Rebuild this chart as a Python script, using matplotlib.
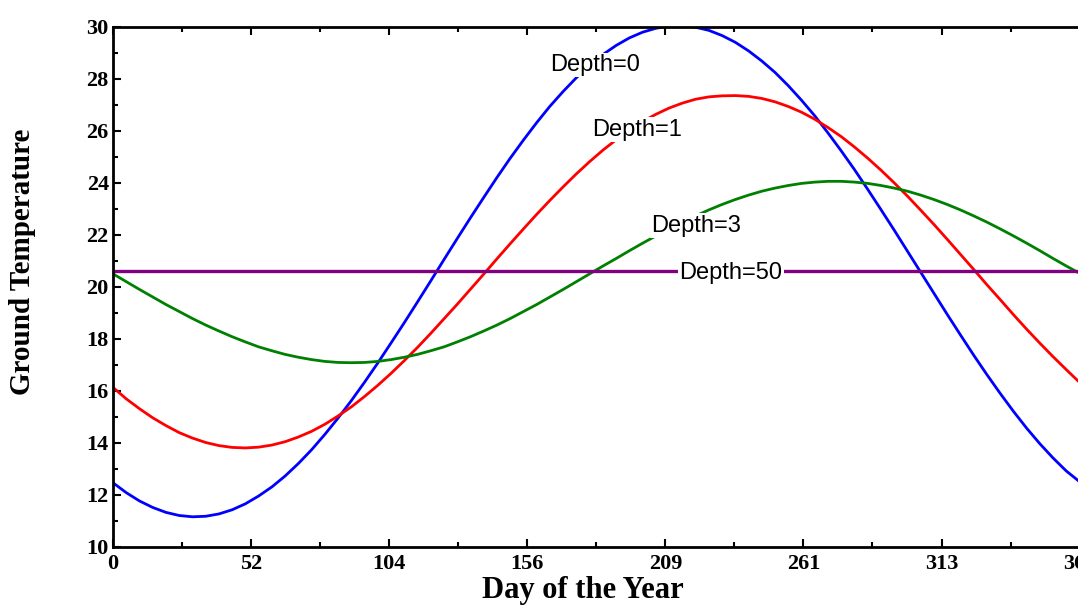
import matplotlib
matplotlib.use("Agg")
import matplotlib.pyplot as plt
from matplotlib.ticker import FixedLocator

# ---- data (every 5 days) ----
days = [0, 5, 10, 15, 20, 25, 30, 35, 40, 45, 50, 55, 60, 65, 70, 75, 80, 85, 90, 95,
        100, 105, 110, 115, 120, 125, 130, 135, 140, 145, 150, 155, 160, 165, 170, 175, 180, 185, 190, 195,
        200, 205, 210, 215, 220, 225, 230, 235, 240, 245, 250, 255, 260, 265, 270, 275, 280, 285, 290, 295,
        300, 305, 310, 315, 320, 325, 330, 335, 340, 345, 350, 355, 360, 365]

depth0 = [12.46, 12.08, 11.76, 11.51, 11.32, 11.20, 11.15, 11.17, 11.26, 11.42, 11.65, 11.95, 12.30, 12.72,
          13.20, 13.73, 14.32, 14.95, 15.62, 16.33, 17.07, 17.84, 18.62, 19.42, 20.23, 21.05, 21.86, 22.66,
          23.44, 24.21, 24.95, 25.65, 26.32, 26.95, 27.52, 28.05, 28.52, 28.94, 29.29, 29.58, 29.80, 29.95,
          30.03, 30.05, 29.99, 29.87, 29.67, 29.41, 29.08, 28.69, 28.25, 27.74, 27.18, 26.58, 25.92, 25.23,
          24.51, 23.75, 22.97, 22.18, 21.37, 20.56, 19.75, 18.94, 18.15, 17.37, 16.62, 15.90, 15.21, 14.56,
          13.96, 13.41, 12.91, 12.50]

depth1 = [16.13, 15.69, 15.31, 14.96, 14.66, 14.39, 14.18, 14.01, 13.89, 13.82, 13.80, 13.83, 13.91, 14.04,
          14.22, 14.44, 14.71, 15.03, 15.38, 15.78, 16.21, 16.67, 17.16, 17.67, 18.21, 18.77, 19.33, 19.91,
          20.49, 21.08, 21.66, 22.23, 22.79, 23.33, 23.85, 24.35, 24.82, 25.26, 25.66, 26.03, 26.36, 26.64,
          26.88, 27.07, 27.22, 27.31, 27.35, 27.36, 27.33, 27.25, 27.12, 26.94, 26.72, 26.45, 26.13, 25.78,
          25.38, 24.95, 24.49, 24.00, 23.49, 22.95, 22.40, 21.83, 21.25, 20.67, 20.08, 19.51, 18.93, 18.37,
          17.83, 17.31, 16.81, 16.32]

depth3 = [20.50, 20.20, 19.90, 19.61, 19.32, 19.05, 18.78, 18.53, 18.30, 18.08, 17.88, 17.69, 17.54, 17.40,
          17.29, 17.20, 17.13, 17.09, 17.08, 17.09, 17.13, 17.20, 17.29, 17.40, 17.54, 17.69, 17.88, 18.08,
          18.30, 18.53, 18.78, 19.05, 19.32, 19.61, 19.90, 20.20, 20.50, 20.80, 21.09, 21.39, 21.68, 21.96,
          22.23, 22.49, 22.73, 22.96, 23.17, 23.36, 23.53, 23.68, 23.80, 23.90, 23.98, 24.03, 24.06, 24.06,
          24.03, 23.98, 23.90, 23.80, 23.68, 23.53, 23.36, 23.17, 22.96, 22.73, 22.49, 22.23, 21.96, 21.68,
          21.39, 21.09, 20.80, 20.52]

depth50 = [20.6] * len(days)

xtick_vals = [0, 365 / 7, 2 * 365 / 7, 3 * 365 / 7, 4 * 365 / 7, 5 * 365 / 7, 6 * 365 / 7, 365]
xtick_labels = ["0", "52", "104", "156", "209", "261", "313", "365"]
ytick_vals = [10, 12, 14, 16, 18, 20, 22, 24, 26, 28, 30]

labels = ["Depth=0", "Depth=1", "Depth=3", "Depth=50"]
label_pos = [(182.2, 28.54), (197.9, 26.04), (220.2, 22.36), (233.4, 20.55)]

# ---- figure ----
plt.rcParams["font.family"] = ["Liberation Serif", "DejaVu Serif"]
fig = plt.figure(figsize=(10.78, 6.05), dpi=100)
ax = fig.add_axes([0.1048, 0.0964, 0.8967, 0.859])

ax.plot(days, depth0, color="#0000ff", lw=2.0, zorder=2)
ax.plot(days, depth1, color="#ff0000", lw=2.0, zorder=2)
ax.plot(days, depth3, color="#008000", lw=2.0, zorder=2)
ax.plot(days, depth50, color="#800080", lw=2.4, zorder=2)

for txt, (lx, ly) in zip(labels, label_pos):
    ax.text(lx, ly, txt, ha="center", va="center", fontsize=17,
            family=["Liberation Sans", "DejaVu Sans"], color="black", zorder=4,
            bbox=dict(facecolor="white", edgecolor="none", pad=1.0))

ax.set_xlim(0, 365)
ax.set_ylim(10, 30)

ax.xaxis.set_major_locator(FixedLocator(xtick_vals))
ax.set_xticklabels(xtick_labels)
minor_x = [(xtick_vals[i] + xtick_vals[i + 1]) / 2 for i in range(len(xtick_vals) - 1)]
ax.xaxis.set_minor_locator(FixedLocator(minor_x))

ax.yaxis.set_major_locator(FixedLocator(ytick_vals))
ax.set_yticklabels([str(v) for v in ytick_vals])
ax.yaxis.set_minor_locator(FixedLocator([v + 1 for v in ytick_vals[:-1]]))

ax.tick_params(which="both", direction="in", top=True, right=False, width=1.5)
ax.tick_params(which="major", length=6)
ax.tick_params(which="minor", length=3.5)
ax.tick_params(axis="x", which="major", pad=5)
ax.tick_params(axis="y", which="major", pad=3)
for lab in ax.get_xticklabels() + ax.get_yticklabels():
    lab.set_fontweight("bold")
    lab.set_fontsize(16)

for sp in ax.spines.values():
    sp.set_linewidth(2.0)

ax.set_xlabel("Day of the Year", fontsize=22, fontweight="bold", va="baseline")
ax.xaxis.set_label_coords(0.486, -0.0987)
ax.set_ylabel("Ground Temperature", fontsize=21, fontweight="bold", va="center")
ax.yaxis.set_label_coords(-0.0931, 0.548)

fig.savefig("out.png", dpi=100)
